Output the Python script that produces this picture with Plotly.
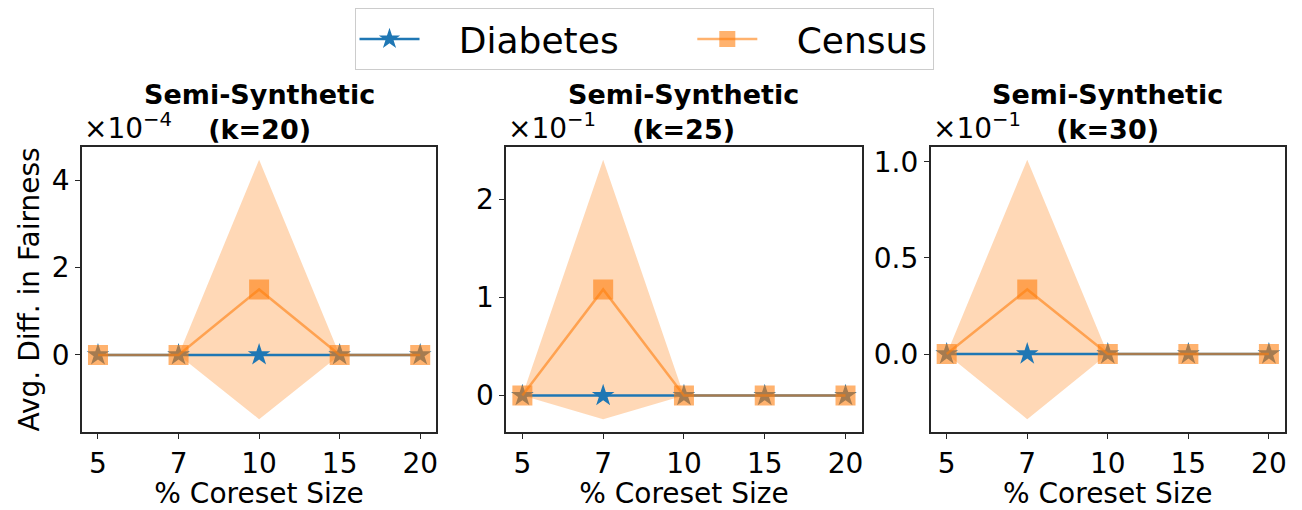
import plotly.graph_objects as go

# Coreset sizes (% of data) shown as evenly spaced categories
coreset_sizes = ["5", "7", "10", "15", "20"]

# Average difference in fairness, per cluster count k (raw values)
diabetes_mean_k20 = [0.0, 0.0, 0.0, 0.0, 0.0]
diabetes_std_k20 = [0.0, 0.0, 0.0, 0.0, 0.0]
census_mean_k20 = [0.0, 0.0, 1.5e-4, 0.0, 0.0]
census_std_k20 = [0.0, 0.0, 2.97e-4, 0.0, 0.0]

diabetes_mean_k25 = [0.0, 0.0, 0.0, 0.0, 0.0]
diabetes_std_k25 = [0.0, 0.0, 0.0, 0.0, 0.0]
census_mean_k25 = [0.0, 1.08e-1, 0.0, 0.0, 0.0]
census_std_k25 = [0.0, 1.32e-1, 0.0, 0.0, 0.0]

diabetes_mean_k30 = [0.0, 0.0, 0.0, 0.0, 0.0]
diabetes_std_k30 = [0.0, 0.0, 0.0, 0.0, 0.0]
census_mean_k30 = [0.0, 0.336e-1, 0.0, 0.0, 0.0]
census_std_k30 = [0.0, 0.675e-1, 0.0, 0.0, 0.0]

k_values = [20, 25, 30]
exponents = [-4, -1, -1]
y_tickvals = [[0, 2, 4], [0, 1, 2], [0, 0.5, 1.0]]
y_ticktext = [["0", "2", "4"], ["0", "1", "2"], ["0.0", "0.5", "1.0"]]

panels = [
    (diabetes_mean_k20, diabetes_std_k20, census_mean_k20, census_std_k20),
    (diabetes_mean_k25, diabetes_std_k25, census_mean_k25, census_std_k25),
    (diabetes_mean_k30, diabetes_std_k30, census_mean_k30, census_std_k30),
]

W, H = 1302, 510
x_px = [(82, 437), (507, 863), (932, 1287)]
y_top_px, y_bot_px = 146, 432

BLUE = "#1f77b4"
ORANGE_LINE = "rgba(255,127,14,0.6)"
ORANGE_BAND = "rgba(255,127,14,0.3)"
BLUE_BAND = "rgba(31,119,180,0.3)"
FONT = "DejaVu Sans"
AXIS_COLOR = "#262626"
NB = "\u00a0"

fig = go.Figure()
annotations = []

for i, (d_mean, d_std, c_mean, c_std) in enumerate(panels):
    scale = 10.0 ** exponents[i]
    xa = "x" if i == 0 else f"x{i+1}"
    ya = "y" if i == 0 else f"y{i+1}"

    def sc(vals):
        return [v / scale for v in vals]

    dm, ds, cm, cs = sc(d_mean), sc(d_std), sc(c_mean), sc(c_std)

    # shaded +/- one std bands
    for mean, std, band in ((dm, ds, BLUE_BAND), (cm, cs, ORANGE_BAND)):
        lower = [m - s for m, s in zip(mean, std)]
        upper = [m + s for m, s in zip(mean, std)]
        fig.add_trace(go.Scatter(x=coreset_sizes, y=lower, mode="lines",
                                 line=dict(width=0), showlegend=False,
                                 hoverinfo="skip", xaxis=xa, yaxis=ya))
        fig.add_trace(go.Scatter(x=coreset_sizes, y=upper, mode="lines",
                                 line=dict(width=0), fill="tonexty",
                                 fillcolor=band, showlegend=False,
                                 hoverinfo="skip", xaxis=xa, yaxis=ya))

    fig.add_trace(go.Scatter(
        x=coreset_sizes, y=dm, mode="lines+markers",
        name=NB * 3 + "Diabetes" + NB * 6,
        line=dict(color=BLUE, width=2.5),
        marker=dict(symbol="star", size=17, color=BLUE, line=dict(width=0)),
        showlegend=(i == 0), legendgroup="diabetes", xaxis=xa, yaxis=ya))
    fig.add_trace(go.Scatter(
        x=coreset_sizes, y=cm, mode="lines+markers",
        name=NB * 3 + "Census",
        line=dict(color=ORANGE_LINE, width=2.5),
        marker=dict(symbol="square", size=20, color=ORANGE_LINE, line=dict(width=0)),
        showlegend=(i == 0), legendgroup="census", xaxis=xa, yaxis=ya))

    # y range with 5% padding around the band extent
    lo = min(min(m - s for m, s in zip(cm, cs)), min(m - s for m, s in zip(dm, ds)))
    hi = max(max(m + s for m, s in zip(cm, cs)), max(m + s for m, s in zip(dm, ds)))
    pad = 0.05 * (hi - lo)

    x0, x1 = x_px[i]
    xdom = [x0 / W, x1 / W]
    ydom = [1 - y_bot_px / H, 1 - y_top_px / H]

    common = dict(showline=True, mirror=True, linecolor=AXIS_COLOR, linewidth=1.5,
                  ticks="outside", ticklen=5, tickwidth=1.3, tickcolor=AXIS_COLOR,
                  showgrid=False, zeroline=False,
                  tickfont=dict(family=FONT, size=28, color="black"))
    fig.layout[f"xaxis{'' if i == 0 else i+1}"] = dict(
        common, domain=xdom, anchor=ya, type="category",
        range=[-0.2, 4.2],
        title=dict(text="% Coreset Size", font=dict(family=FONT, size=28, color="black"),
                   standoff=6))
    yax = dict(common, domain=ydom, anchor=xa, range=[lo - pad, hi + pad],
               tickvals=y_tickvals[i], ticktext=y_ticktext[i])
    if i == 0:
        yax["title"] = dict(text="Avg. Diff. in Fairness",
                            font=dict(family=FONT, size=28, color="black"), standoff=4)
    fig.layout[f"yaxis{'' if i == 0 else i+1}"] = yax

    # two-line panel title and offset multiplier
    xc = (xdom[0] + xdom[1]) / 2
    annotations.append(dict(text=f"<b>Semi-Synthetic<br>(k={k_values[i]})</b>",
                            x=xc, y=1 - 111 / H,
                            xref="paper", yref="paper", xanchor="center", yanchor="middle",
                            showarrow=False, font=dict(family=FONT, size=27, color="black")))
    annotations.append(dict(text=f"×10<sup>−{abs(exponents[i])}</sup>", x=xdom[0], y=ydom[1],
                            xref="paper", yref="paper", xanchor="left", yanchor="bottom",
                            yshift=0, showarrow=False,
                            font=dict(family=FONT, size=28, color="black")))

fig.update_layout(
    width=W, height=H,
    margin=dict(l=0, r=0, t=0, b=0),
    paper_bgcolor="white", plot_bgcolor="white",
    annotations=annotations,
    legend=dict(orientation="h", x=645 / W, xanchor="center", y=1 - 7 / H, yanchor="top",
                bordercolor="#cccccc", borderwidth=1,
                font=dict(family=FONT, size=36, color="black"),
                itemwidth=60),
    showlegend=True,
)

fig.write_html("out.html")
